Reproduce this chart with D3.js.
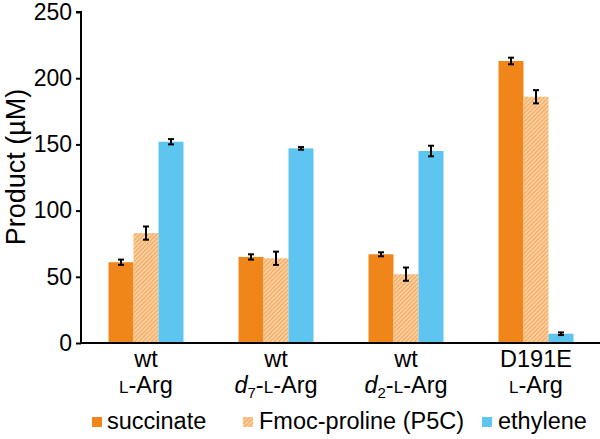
<!DOCTYPE html>
<html>
<head>
<meta charset="utf-8">
<script src="https://cdn.jsdelivr.net/npm/d3@7"></script>
<style>
  html, body { margin: 0; padding: 0; background: #fff; }
  svg { display: block; font-family: "Liberation Sans", Arial, sans-serif; }
</style>
</head>
<body>
<svg id="chart" width="600" height="439"></svg>
<script>
// ---- data ----
const categories = ["wt L-Arg", "wt d7-L-Arg", "wt d2-L-Arg", "D191E L-Arg"];
const seriesNames = ["succinate", "Fmoc-proline (P5C)", "ethylene"];
const succinate = [61, 65, 67, 213];
const fmocProline = [83, 64, 52, 186];
const ethylene = [152, 147, 145, 7];
const succinateErr = [2, 2, 1.5, 2.5];
const fmocProlineErr = [5, 5, 5, 5];
const ethyleneErr = [2, 1, 4, 1];
const yTicks = [0, 50, 100, 150, 200, 250];

const values = [succinate, fmocProline, ethylene];
const errors = [succinateErr, fmocProlineErr, ethyleneErr];

const svg = d3.select("#chart");
const defs = svg.append("defs");
const pat = defs.append("pattern")
  .attr("id", "hatch").attr("patternUnits", "userSpaceOnUse")
  .attr("width", 3).attr("height", 3)
  .attr("patternTransform", "rotate(45)");
pat.append("rect").attr("width", 3).attr("height", 3).attr("fill", "#fcd7ad");
pat.append("rect").attr("width", 1.4).attr("height", 3).attr("fill", "#f6a75c");

const fills = ["#f08519", "url(#hatch)", "#5ec5f0"];

const x0 = d3.scaleBand().domain(categories).range([81, 601])
  .paddingInner(55 / 130).paddingOuter(55 / 260);
const x1 = d3.scaleBand().domain(seriesNames).range([0, x0.bandwidth()]).padding(0);
const y = d3.scaleLinear().domain([0, 250]).range([343, 12]);

// bars
const data = [];
categories.forEach((c, i) => {
  seriesNames.forEach((s, j) => {
    data.push({ c, s, v: values[j][i], e: errors[j][i], fill: fills[j] });
  });
});

svg.append("g").selectAll("rect").data(data).join("rect")
  .attr("x", d => x0(d.c) + x1(d.s))
  .attr("y", d => y(d.v))
  .attr("width", x1.bandwidth())
  .attr("height", d => y(0) - y(d.v))
  .attr("fill", d => d.fill);

// error bars
const eg = svg.append("g").attr("stroke", "#000").attr("stroke-width", 2);
data.forEach(d => {
  const cx = x0(d.c) + x1(d.s) + x1.bandwidth() / 2;
  eg.append("line").attr("x1", cx).attr("x2", cx).attr("y1", y(d.v + d.e)).attr("y2", y(d.v - d.e));
  eg.append("line").attr("x1", cx - 3).attr("x2", cx + 3).attr("y1", y(d.v + d.e)).attr("y2", y(d.v + d.e));
  eg.append("line").attr("x1", cx - 3).attr("x2", cx + 3).attr("y1", y(d.v - d.e)).attr("y2", y(d.v - d.e));
});

// y axis
const yAxis = svg.append("g").attr("transform", "translate(81,0)")
  .call(d3.axisLeft(y).tickValues(yTicks).tickSize(5).tickPadding(4));
yAxis.select(".domain").attr("stroke-width", 2).attr("d", "M-5,12H0V343");
yAxis.selectAll(".tick line").attr("stroke-width", 2);
yAxis.selectAll(".tick text").attr("font-size", 23).attr("fill", "#000")
  .attr("font-family", "Liberation Sans, Arial, sans-serif");

// x axis line
svg.append("line").attr("x1", 80).attr("x2", 600).attr("y1", 343).attr("y2", 343)
  .attr("stroke", "#000").attr("stroke-width", 2);

// y title
svg.append("text")
  .attr("transform", "translate(25,167) rotate(-90)")
  .attr("text-anchor", "middle").attr("font-size", 27).attr("fill", "#000")
  .text("Product (µM)");

// category labels
const catLines = [
  { top: "wt", parts: [["L", "sc"], ["-Arg", ""]] },
  { top: "wt", parts: [["d", "it"], ["7", "sub"], ["-", "up"], ["L", "sc"], ["-Arg", ""]] },
  { top: "wt", parts: [["d", "it"], ["2", "sub"], ["-", "up"], ["L", "sc"], ["-Arg", ""]] },
  { top: "D191E", parts: [["L", "sc"], ["-Arg", ""]] }
];
categories.forEach((c, i) => {
  const cx = x0(c) + x0.bandwidth() / 2;
  svg.append("text").attr("x", cx).attr("y", 367).attr("text-anchor", "middle")
    .attr("font-size", 23.5).attr("fill", "#000").text(catLines[i].top);
  const t = svg.append("text").attr("x", cx).attr("y", 393).attr("text-anchor", "middle")
    .attr("font-size", 23.5).attr("fill", "#000");
  catLines[i].parts.forEach(([s, k]) => {
    const ts = t.append("tspan").text(s);
    if (k === "sc") ts.attr("font-size", 17);
    if (k === "it") ts.attr("font-style", "italic");
    if (k === "sub") ts.attr("font-size", 15).attr("dy", 5);
    if (k === "up") ts.attr("dy", -5);
  });
});

// legend
const legendPos = [
  { sq: 92, tx: 107 },
  { sq: 243, tx: 259 },
  { sq: 482, tx: 498 }
];
seriesNames.forEach((s, j) => {
  svg.append("rect").attr("x", legendPos[j].sq).attr("y", 417)
    .attr("width", 10).attr("height", 10).attr("fill", fills[j]);
  svg.append("text").attr("x", legendPos[j].tx).attr("y", 429)
    .attr("font-size", 23.5).attr("fill", "#000").text(s);
});
</script>
</body>
</html>
